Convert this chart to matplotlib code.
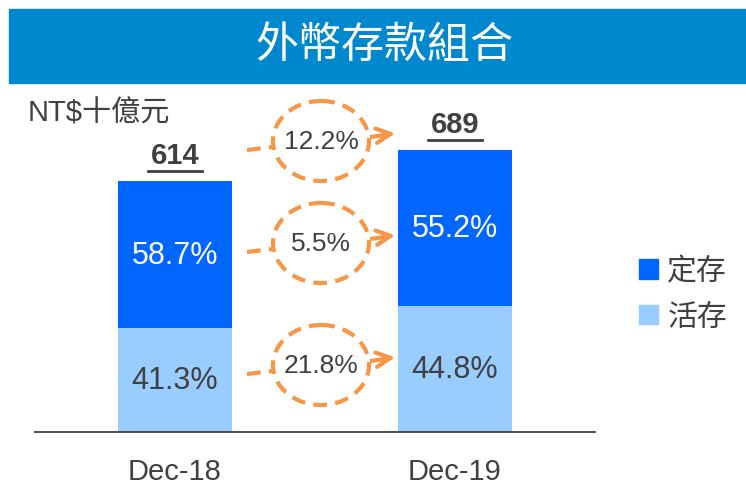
import numpy as np
import matplotlib
matplotlib.use("Agg")
import matplotlib.pyplot as plt
from matplotlib.patches import Ellipse, Patch, Rectangle

# data
years = ["Dec-18", "Dec-19"]
totals = [614, 689]
demand_pct = [41.3, 44.8]   # 活存
time_pct = [58.7, 55.2]     # 定存
growth = ["21.8%", "5.5%", "12.2%"]  # 活存, 定存, 合計

title = "外幣存款組合"
unit = "NT$十億元"

dark = "#0066FF"
light = "#99CCFF"
banner = "#0088CE"
orange = "#F79646"
txt = "#404040"
FONT = ["Liberation Sans", "Noto Sans CJK TC", "DejaVu Sans"]
plt.rcParams["font.family"] = FONT

W, H = 746, 485
fig = plt.figure(figsize=(W / 100, H / 100), dpi=100)

# main data axes over the whole figure; mapping chosen so bars land where they should
ax = fig.add_axes([0, 0, 1, 1])
px_per_x = 280.0
x0_px = 175.0
base_px = 433.0
px_per_y = 251.0 / totals[0]
ax.set_xlim(-x0_px / px_per_x, (W - x0_px) / px_per_x)
ax.set_ylim(-(H - base_px) / px_per_y, base_px / px_per_y)
ax.axis("off")

x = np.arange(len(years))
totals = np.array(totals)
demand = totals * np.array(demand_pct) / 100
timed = totals - demand
bw = 114 / px_per_x

ax.bar(x, demand, width=bw, color=light, zorder=2)
ax.bar(x, timed, width=bw, bottom=demand, color=dark, zorder=2)

for i in range(len(years)):
    ax.text(x[i], demand[i] / 2, f"{demand_pct[i]}%", ha="center", va="center",
            fontsize=22, color=txt, zorder=3)
    ax.text(x[i], demand[i] + timed[i] / 2, f"{time_pct[i]}%", ha="center", va="center",
            fontsize=22, color="white", zorder=3)
    ax.annotate(str(totals[i]), (x[i], totals[i]), xytext=(0, 19), textcoords="offset points",
                ha="center", va="center", fontsize=21, fontweight="bold", color=txt)
    ax.annotate(years[i], (x[i], 0), xytext=(0, -28), textcoords="offset points",
                ha="center", va="center", fontsize=21, color=txt)

ax.axhline(0, xmin=35 / W, xmax=595 / W, color=txt, lw=1.3, zorder=4)

# overlay in pixel coords for the decorations
ov = fig.add_axes([0, 0, 1, 1])
ov.set_xlim(0, W)
ov.set_ylim(H, 0)
ov.axis("off")
ov.patch.set_alpha(0)

ov.add_patch(Rectangle((9, 10), W - 9, 74, color=banner, zorder=1))
ov.text(384, 46, title, ha="center", va="center", fontsize=31, color="white",
        family=["Noto Sans CJK TC"], fontweight="medium")
ov.text(28, 114, unit, ha="left", va="center", fontsize=21, color=txt)

# underline for totals
for i in range(len(years)):
    cx = x0_px + x[i] * px_per_x
    ty = base_px - totals[i] * px_per_y - 10
    ov.plot([cx - 27, cx + 27], [ty, ty], color=txt, lw=2)

# growth ellipses with dashed arrows
centers = [366, 244, 142]
for cy, g in zip(centers, growth):
    ov.add_patch(Ellipse((321, cy), 96, 80, fill=False, ec=orange, lw=3,
                         ls=(0, (3.3, 2)), zorder=5))
    ov.text(321, cy, g, ha="center", va="center", fontsize=19, color=txt, zorder=6)
    ov.plot([247, 273], [cy + 9, cy + 6], color=orange, lw=3, ls=(0, (3.3, 2)))
    ov.plot([370, 385], [cy - 4, cy - 6], color=orange, lw=3, ls=(0, (3.3, 2)))
    ov.annotate("", xy=(398, cy - 8), xytext=(382, cy - 6),
                arrowprops=dict(arrowstyle="->", color=orange, lw=3, mutation_scale=26))

handles = [Patch(color=dark, label="定存"), Patch(color=light, label="活存")]
fig.legend(handles=handles, loc="upper left", bbox_to_anchor=(612 / W, 1 - 231 / H),
           frameon=False, fontsize=21.5, handlelength=0.65, handleheight=0.65,
           handletextpad=0.3, labelspacing=0.6, labelcolor=txt)

fig.savefig("out.png", dpi=100)
